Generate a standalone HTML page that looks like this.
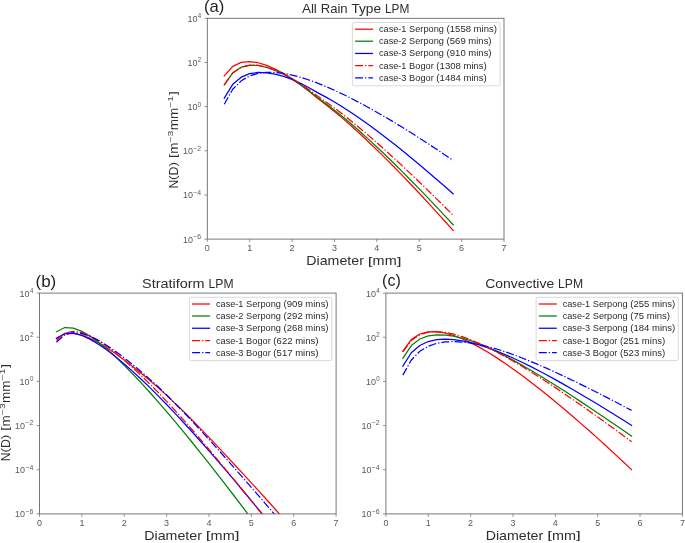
<!DOCTYPE html>
<html><head><meta charset="utf-8"><title>DSD</title>
<style>html,body{margin:0;padding:0;background:#fff}body{width:685px;height:543px;overflow:hidden;font-family:"Liberation Sans",sans-serif}svg text{-webkit-font-smoothing:antialiased;}svg{will-change:transform;opacity:0.999}</style></head>
<body>
<svg width="685" height="543" viewBox="0 0 685 543" style="display:block">
<rect width="685" height="543" fill="#fff"/>
<defs>
<clipPath id="clipa"><rect x="207.3" y="18.3" width="296.70" height="220.80"/></clipPath>
<clipPath id="clipb"><rect x="39.5" y="293.1" width="296.60" height="220.80"/></clipPath>
<clipPath id="clipc"><rect x="385.9" y="293.1" width="296.50" height="220.80"/></clipPath>
</defs>
<g clip-path="url(#clipa)" fill="none" stroke-width="1.25" stroke-linejoin="round">
<polyline points="224.25,75.96 232.73,66.31 241.21,62.35 249.69,61.54 258.16,62.74 266.64,65.35 275.12,68.99 283.59,73.44 292.07,78.77 300.55,84.84 309.03,91.37 317.50,98.29 325.98,104.78 334.46,111.58 342.93,118.64 351.41,126.05 359.89,133.79 368.37,141.73 376.84,149.85 385.32,158.15 393.80,166.71 402.27,175.42 410.75,184.28 419.23,193.27 427.71,202.39 436.18,211.63 444.66,221.00 453.14,230.48" stroke="#ff0000" stroke-linecap="square"/>
<polyline points="224.25,84.90 232.73,72.81 241.21,67.22 249.69,65.22 258.16,65.49 266.64,67.34 275.12,70.36 283.59,74.28 292.07,79.13 300.55,84.79 309.03,90.94 317.50,97.51 325.98,103.68 334.46,110.16 342.93,116.92 351.41,124.04 359.89,131.49 368.37,139.14 376.84,146.98 385.32,154.99 393.80,163.25 402.27,171.67 410.75,180.22 419.23,188.89 427.71,197.69 436.18,206.61 444.66,215.63 453.14,224.75" stroke="#008000" stroke-linecap="square"/>
<polyline points="224.25,98.06 232.73,84.31 241.21,77.16 249.69,73.63 258.16,72.48 266.64,72.93 275.12,74.16 283.59,76.30 292.07,79.40 300.55,83.33 309.03,87.75 317.50,92.59 325.98,97.16 334.46,102.03 342.93,107.19 351.41,112.70 359.89,118.53 368.37,124.57 376.84,130.78 385.32,137.17 393.80,143.80 402.27,150.58 410.75,157.49 419.23,164.53 427.71,171.68 436.18,178.94 444.66,186.30 453.14,193.76" stroke="#0000ff" stroke-linecap="square"/>
<polyline points="224.25,84.92 232.73,72.91 241.21,67.34 249.69,65.29 258.16,65.48 266.64,67.22 275.12,70.08 283.59,73.82 292.07,78.46 300.55,83.88 309.03,89.77 317.50,96.04 325.98,101.89 334.46,108.03 342.93,114.42 351.41,121.14 359.89,128.17 368.37,135.38 376.84,142.75 385.32,150.26 393.80,158.01 402.27,165.88 410.75,173.86 419.23,181.95 427.71,190.13 436.18,198.40 444.66,206.76 453.14,215.20" stroke="#ff0000" stroke-dasharray="8 2 1.25 2" stroke-linecap="butt"/>
<polyline points="224.25,104.21 232.73,89.27 241.21,80.83 249.69,75.96 258.16,73.35 266.64,72.31 275.12,72.41 283.59,73.39 292.07,75.06 300.55,77.30 309.03,80.00 317.50,83.10 325.98,86.54 334.46,90.27 342.93,94.25 351.41,98.46 359.89,102.87 368.37,107.46 376.84,112.21 385.32,117.12 393.80,122.15 402.27,127.32 410.75,132.59 419.23,137.97 427.71,143.45 436.18,149.02 444.66,154.68 453.14,160.42" stroke="#0000ff" stroke-dasharray="8 2 1.25 2" stroke-linecap="butt"/>
</g>
<rect x="207.3" y="18.3" width="296.70" height="220.80" fill="none" stroke="#6a6a6a" stroke-width="0.9"/>
<g stroke="#777" stroke-width="0.8">
<line x1="207.30" x2="207.30" y1="239.1" y2="242.0"/>
<line x1="249.69" x2="249.69" y1="239.1" y2="242.0"/>
<line x1="292.07" x2="292.07" y1="239.1" y2="242.0"/>
<line x1="334.46" x2="334.46" y1="239.1" y2="242.0"/>
<line x1="376.84" x2="376.84" y1="239.1" y2="242.0"/>
<line x1="419.23" x2="419.23" y1="239.1" y2="242.0"/>
<line x1="461.61" x2="461.61" y1="239.1" y2="242.0"/>
<line x1="504.00" x2="504.00" y1="239.1" y2="242.0"/>
<line x1="204.4" x2="207.3" y1="18.30" y2="18.30"/>
<line x1="204.4" x2="207.3" y1="62.46" y2="62.46"/>
<line x1="204.4" x2="207.3" y1="106.62" y2="106.62"/>
<line x1="204.4" x2="207.3" y1="150.78" y2="150.78"/>
<line x1="204.4" x2="207.3" y1="194.94" y2="194.94"/>
<line x1="204.4" x2="207.3" y1="239.10" y2="239.10"/>
</g>
<g font-family="Liberation Sans, sans-serif" fill="#585858" font-size="9.0">
<text x="207.30" y="251.20" text-anchor="middle" textLength="4.99" lengthAdjust="spacingAndGlyphs">0</text>
<text x="249.69" y="251.20" text-anchor="middle" textLength="4.99" lengthAdjust="spacingAndGlyphs">1</text>
<text x="292.07" y="251.20" text-anchor="middle" textLength="4.99" lengthAdjust="spacingAndGlyphs">2</text>
<text x="334.46" y="251.20" text-anchor="middle" textLength="4.99" lengthAdjust="spacingAndGlyphs">3</text>
<text x="376.84" y="251.20" text-anchor="middle" textLength="4.99" lengthAdjust="spacingAndGlyphs">4</text>
<text x="419.23" y="251.20" text-anchor="middle" textLength="4.99" lengthAdjust="spacingAndGlyphs">5</text>
<text x="461.61" y="251.20" text-anchor="middle" textLength="4.99" lengthAdjust="spacingAndGlyphs">6</text>
<text x="504.00" y="251.20" text-anchor="middle" textLength="4.99" lengthAdjust="spacingAndGlyphs">7</text>
<text x="197.39" y="21.70" text-anchor="end" textLength="9.98" lengthAdjust="spacingAndGlyphs">10</text>
<text x="201.10" y="18.20" text-anchor="end" font-size="6.8" textLength="3.41" lengthAdjust="spacingAndGlyphs">4</text>
<text x="197.39" y="65.86" text-anchor="end" textLength="9.98" lengthAdjust="spacingAndGlyphs">10</text>
<text x="201.10" y="62.36" text-anchor="end" font-size="6.8" textLength="3.41" lengthAdjust="spacingAndGlyphs">2</text>
<text x="197.39" y="110.02" text-anchor="end" textLength="9.98" lengthAdjust="spacingAndGlyphs">10</text>
<text x="201.10" y="106.52" text-anchor="end" font-size="6.8" textLength="3.41" lengthAdjust="spacingAndGlyphs">0</text>
<text x="192.90" y="154.18" text-anchor="end" textLength="9.98" lengthAdjust="spacingAndGlyphs">10</text>
<text x="201.10" y="150.68" text-anchor="end" font-size="6.8" textLength="7.90" lengthAdjust="spacingAndGlyphs">−2</text>
<text x="192.90" y="198.34" text-anchor="end" textLength="9.98" lengthAdjust="spacingAndGlyphs">10</text>
<text x="201.10" y="194.84" text-anchor="end" font-size="6.8" textLength="7.90" lengthAdjust="spacingAndGlyphs">−4</text>
<text x="192.90" y="242.50" text-anchor="end" textLength="9.98" lengthAdjust="spacingAndGlyphs">10</text>
<text x="201.10" y="239.00" text-anchor="end" font-size="6.8" textLength="7.90" lengthAdjust="spacingAndGlyphs">−6</text>
</g>
<g font-family="Liberation Sans, sans-serif" font-size="12.4" fill="#2e2e2e"><text x="301.90" y="12.80" textLength="14.99" lengthAdjust="spacingAndGlyphs">All</text><text x="320.74" y="12.80" textLength="26.84" lengthAdjust="spacingAndGlyphs">Rain</text><text x="351.42" y="12.80" textLength="29.66" lengthAdjust="spacingAndGlyphs">Type</text><text x="384.93" y="12.80" textLength="24.47" lengthAdjust="spacingAndGlyphs">LPM</text></g>
<text font-family="Liberation Sans, sans-serif" x="203.90" y="12.00" font-size="16.4" fill="#1e1e1e" textLength="20.4" lengthAdjust="spacingAndGlyphs">(a)</text>
<g font-family="Liberation Sans, sans-serif" font-size="12.7" fill="#2e2e2e"><text x="306.30" y="265.30" textLength="57.61" lengthAdjust="spacingAndGlyphs">Diameter</text><text x="367.83" y="264.54" font-size="11.75" textLength="4.81" lengthAdjust="spacingAndGlyphs">[</text><text x="372.64" y="265.30" textLength="24.04" lengthAdjust="spacingAndGlyphs">mm</text><text x="396.69" y="264.54" font-size="11.75" textLength="4.81" lengthAdjust="spacingAndGlyphs">]</text></g>
<g transform="translate(178.00,188.50) rotate(-90)" font-family="Liberation Sans, sans-serif" fill="#2e2e2e" font-size="11.9">
<text x="0.00" y="0" textLength="8.62" lengthAdjust="spacingAndGlyphs">N</text>
<text x="8.62" y="-0.71" font-size="11.01" textLength="4.50" lengthAdjust="spacingAndGlyphs">(</text>
<text x="13.12" y="0" textLength="8.88" lengthAdjust="spacingAndGlyphs">D</text>
<text x="22.00" y="-0.71" font-size="11.01" textLength="4.50" lengthAdjust="spacingAndGlyphs">)</text>
<text x="30.16" y="-0.71" font-size="11.01" textLength="4.50" lengthAdjust="spacingAndGlyphs">[</text>
<text x="34.66" y="0" textLength="11.23" lengthAdjust="spacingAndGlyphs">m</text>
<text x="46.00" y="-4.9" font-size="7.91" fill="#444" textLength="11.90" lengthAdjust="spacingAndGlyphs">−3</text>
<text x="58.21" y="0" textLength="22.46" lengthAdjust="spacingAndGlyphs">mm</text>
<text x="80.79" y="-4.9" font-size="7.91" fill="#444" textLength="11.90" lengthAdjust="spacingAndGlyphs">−1</text>
<text x="93.00" y="-0.71" font-size="11.01" textLength="4.50" lengthAdjust="spacingAndGlyphs">]</text>
</g>
<rect x="352.4" y="22.50" width="147.70" height="63.30" rx="1.8" fill="#fff" fill-opacity="0.8" stroke="#d2d2d2" stroke-width="0.85"/>
<line x1="355.10" x2="373.10" y1="29.20" y2="29.20" stroke="#ff0000" stroke-width="1.25"/>
<g font-family="Liberation Sans, sans-serif" font-size="8.7" fill="#2a2a2a"><text x="379.00" y="32.20" textLength="27.45" lengthAdjust="spacingAndGlyphs">case-1</text><text x="409.10" y="32.20" textLength="34.79" lengthAdjust="spacingAndGlyphs">Serpong</text><text x="446.54" y="32.20" textLength="3.25" lengthAdjust="spacingAndGlyphs">(</text><text x="449.79" y="32.20" textLength="21.20" lengthAdjust="spacingAndGlyphs">1558</text><text x="473.64" y="32.20" textLength="20.05" lengthAdjust="spacingAndGlyphs">mins</text><text x="493.68" y="32.20" textLength="3.25" lengthAdjust="spacingAndGlyphs">)</text></g>
<line x1="355.10" x2="373.10" y1="41.20" y2="41.20" stroke="#008000" stroke-width="1.25"/>
<g font-family="Liberation Sans, sans-serif" font-size="8.7" fill="#2a2a2a"><text x="379.00" y="44.20" textLength="27.45" lengthAdjust="spacingAndGlyphs">case-2</text><text x="409.10" y="44.20" textLength="34.79" lengthAdjust="spacingAndGlyphs">Serpong</text><text x="446.54" y="44.20" textLength="3.25" lengthAdjust="spacingAndGlyphs">(</text><text x="449.79" y="44.20" textLength="15.90" lengthAdjust="spacingAndGlyphs">569</text><text x="468.34" y="44.20" textLength="20.05" lengthAdjust="spacingAndGlyphs">mins</text><text x="488.38" y="44.20" textLength="3.25" lengthAdjust="spacingAndGlyphs">)</text></g>
<line x1="355.10" x2="373.10" y1="53.45" y2="53.45" stroke="#0000ff" stroke-width="1.25"/>
<g font-family="Liberation Sans, sans-serif" font-size="8.7" fill="#2a2a2a"><text x="379.00" y="56.45" textLength="27.45" lengthAdjust="spacingAndGlyphs">case-3</text><text x="409.10" y="56.45" textLength="34.79" lengthAdjust="spacingAndGlyphs">Serpong</text><text x="446.54" y="56.45" textLength="3.25" lengthAdjust="spacingAndGlyphs">(</text><text x="449.79" y="56.45" textLength="15.90" lengthAdjust="spacingAndGlyphs">910</text><text x="468.34" y="56.45" textLength="20.05" lengthAdjust="spacingAndGlyphs">mins</text><text x="488.38" y="56.45" textLength="3.25" lengthAdjust="spacingAndGlyphs">)</text></g>
<line x1="355.10" x2="373.10" y1="65.70" y2="65.70" stroke="#ff0000" stroke-width="1.25" stroke-dasharray="8 2 1.25 2"/>
<g font-family="Liberation Sans, sans-serif" font-size="8.7" fill="#2a2a2a"><text x="379.00" y="68.70" textLength="27.45" lengthAdjust="spacingAndGlyphs">case-1</text><text x="409.10" y="68.70" textLength="24.62" lengthAdjust="spacingAndGlyphs">Bogor</text><text x="436.37" y="68.70" textLength="3.25" lengthAdjust="spacingAndGlyphs">(</text><text x="439.62" y="68.70" textLength="21.20" lengthAdjust="spacingAndGlyphs">1308</text><text x="463.47" y="68.70" textLength="20.05" lengthAdjust="spacingAndGlyphs">mins</text><text x="483.52" y="68.70" textLength="3.25" lengthAdjust="spacingAndGlyphs">)</text></g>
<line x1="355.10" x2="373.10" y1="77.80" y2="77.80" stroke="#0000ff" stroke-width="1.25" stroke-dasharray="8 2 1.25 2"/>
<g font-family="Liberation Sans, sans-serif" font-size="8.7" fill="#2a2a2a"><text x="379.00" y="80.80" textLength="27.45" lengthAdjust="spacingAndGlyphs">case-3</text><text x="409.10" y="80.80" textLength="24.62" lengthAdjust="spacingAndGlyphs">Bogor</text><text x="436.37" y="80.80" textLength="3.25" lengthAdjust="spacingAndGlyphs">(</text><text x="439.62" y="80.80" textLength="21.20" lengthAdjust="spacingAndGlyphs">1484</text><text x="463.47" y="80.80" textLength="20.05" lengthAdjust="spacingAndGlyphs">mins</text><text x="483.52" y="80.80" textLength="3.25" lengthAdjust="spacingAndGlyphs">)</text></g>
<g clip-path="url(#clipb)" fill="none" stroke-width="1.25" stroke-linejoin="round">
<polyline points="56.45,338.62 64.92,333.80 73.40,333.27 81.87,335.10 90.35,338.44 98.82,342.83 107.29,348.01 115.77,353.79 124.24,360.06 132.72,366.49 141.19,373.25 149.67,380.30 158.14,387.61 166.61,395.39 175.09,403.37 183.56,411.53 192.04,419.95 200.51,428.60 208.99,437.40 217.46,446.33 225.93,455.37 234.41,464.54 242.88,473.62 251.36,482.82 259.83,492.11 268.31,501.49 276.78,510.96 285.25,520.52" stroke="#ff0000" stroke-linecap="square"/>
<polyline points="56.45,331.73 64.92,327.52 73.40,328.13 81.87,331.39 90.35,336.34 98.82,342.47 107.29,349.46 115.77,357.12 124.24,365.31 132.72,373.95 141.19,382.94 149.67,392.25 158.14,401.83 166.61,411.64 175.09,421.67 183.56,431.88 192.04,442.26 200.51,452.80 208.99,463.47 217.46,474.28 225.93,485.21 234.41,496.25 242.88,507.39 251.36,518.63 259.83,529.97 268.31,541.40 276.78,552.91 285.25,564.49" stroke="#008000" stroke-linecap="square"/>
<polyline points="56.45,338.27 64.92,333.44 73.40,333.20 81.87,335.50 90.35,339.41 98.82,344.45 107.29,350.33 115.77,356.86 124.24,363.91 132.72,371.40 141.19,379.25 149.67,387.41 158.14,395.85 166.61,404.53 175.09,413.43 183.56,422.52 192.04,431.79 200.51,441.22 208.99,450.81 217.46,460.54 225.93,470.40 234.41,480.38 242.88,490.48 251.36,500.70 259.83,511.02 268.31,521.44 276.78,531.96 285.25,542.57" stroke="#0000ff" stroke-linecap="square"/>
<polyline points="56.45,340.52 64.92,333.01 73.40,331.25 81.87,332.64 90.35,336.03 98.82,340.79 107.29,346.57 115.77,353.12 124.24,360.29 132.72,367.75 141.19,375.63 149.67,383.85 158.14,392.37 166.61,401.34 175.09,410.53 183.56,419.92 192.04,429.49 200.51,439.37 208.99,449.38 217.46,459.53 225.93,469.80 234.41,480.17 242.88,490.48 251.36,500.89 259.83,511.38 268.31,521.95 276.78,532.59 285.25,543.31" stroke="#ff0000" stroke-dasharray="8 2 1.25 2" stroke-linecap="butt"/>
<polyline points="56.45,342.20 64.92,334.72 73.40,332.67 81.87,333.60 90.35,336.43 98.82,340.57 107.29,345.67 115.77,351.52 124.24,357.96 132.72,364.63 141.19,371.70 149.67,379.11 158.14,386.82 166.61,395.02 175.09,403.45 183.56,412.08 192.04,420.98 200.51,430.13 208.99,439.43 217.46,448.87 225.93,458.42 234.41,468.09 242.88,477.69 251.36,487.39 259.83,497.18 268.31,507.06 276.78,517.02 285.25,527.06" stroke="#0000ff" stroke-dasharray="8 2 1.25 2" stroke-linecap="butt"/>
</g>
<rect x="39.5" y="293.1" width="296.60" height="220.80" fill="none" stroke="#6a6a6a" stroke-width="0.9"/>
<g stroke="#777" stroke-width="0.8">
<line x1="39.50" x2="39.50" y1="513.9" y2="516.8"/>
<line x1="81.87" x2="81.87" y1="513.9" y2="516.8"/>
<line x1="124.24" x2="124.24" y1="513.9" y2="516.8"/>
<line x1="166.61" x2="166.61" y1="513.9" y2="516.8"/>
<line x1="208.99" x2="208.99" y1="513.9" y2="516.8"/>
<line x1="251.36" x2="251.36" y1="513.9" y2="516.8"/>
<line x1="293.73" x2="293.73" y1="513.9" y2="516.8"/>
<line x1="336.10" x2="336.10" y1="513.9" y2="516.8"/>
<line x1="36.6" x2="39.5" y1="293.10" y2="293.10"/>
<line x1="36.6" x2="39.5" y1="337.26" y2="337.26"/>
<line x1="36.6" x2="39.5" y1="381.42" y2="381.42"/>
<line x1="36.6" x2="39.5" y1="425.58" y2="425.58"/>
<line x1="36.6" x2="39.5" y1="469.74" y2="469.74"/>
<line x1="36.6" x2="39.5" y1="513.90" y2="513.90"/>
</g>
<g font-family="Liberation Sans, sans-serif" fill="#585858" font-size="9.0">
<text x="39.50" y="526.00" text-anchor="middle" textLength="4.99" lengthAdjust="spacingAndGlyphs">0</text>
<text x="81.87" y="526.00" text-anchor="middle" textLength="4.99" lengthAdjust="spacingAndGlyphs">1</text>
<text x="124.24" y="526.00" text-anchor="middle" textLength="4.99" lengthAdjust="spacingAndGlyphs">2</text>
<text x="166.61" y="526.00" text-anchor="middle" textLength="4.99" lengthAdjust="spacingAndGlyphs">3</text>
<text x="208.99" y="526.00" text-anchor="middle" textLength="4.99" lengthAdjust="spacingAndGlyphs">4</text>
<text x="251.36" y="526.00" text-anchor="middle" textLength="4.99" lengthAdjust="spacingAndGlyphs">5</text>
<text x="293.73" y="526.00" text-anchor="middle" textLength="4.99" lengthAdjust="spacingAndGlyphs">6</text>
<text x="336.10" y="526.00" text-anchor="middle" textLength="4.99" lengthAdjust="spacingAndGlyphs">7</text>
<text x="29.59" y="296.50" text-anchor="end" textLength="9.98" lengthAdjust="spacingAndGlyphs">10</text>
<text x="33.30" y="293.00" text-anchor="end" font-size="6.8" textLength="3.41" lengthAdjust="spacingAndGlyphs">4</text>
<text x="29.59" y="340.66" text-anchor="end" textLength="9.98" lengthAdjust="spacingAndGlyphs">10</text>
<text x="33.30" y="337.16" text-anchor="end" font-size="6.8" textLength="3.41" lengthAdjust="spacingAndGlyphs">2</text>
<text x="29.59" y="384.82" text-anchor="end" textLength="9.98" lengthAdjust="spacingAndGlyphs">10</text>
<text x="33.30" y="381.32" text-anchor="end" font-size="6.8" textLength="3.41" lengthAdjust="spacingAndGlyphs">0</text>
<text x="25.10" y="428.98" text-anchor="end" textLength="9.98" lengthAdjust="spacingAndGlyphs">10</text>
<text x="33.30" y="425.48" text-anchor="end" font-size="6.8" textLength="7.90" lengthAdjust="spacingAndGlyphs">−2</text>
<text x="25.10" y="473.14" text-anchor="end" textLength="9.98" lengthAdjust="spacingAndGlyphs">10</text>
<text x="33.30" y="469.64" text-anchor="end" font-size="6.8" textLength="7.90" lengthAdjust="spacingAndGlyphs">−4</text>
<text x="25.10" y="517.30" text-anchor="end" textLength="9.98" lengthAdjust="spacingAndGlyphs">10</text>
<text x="33.30" y="513.80" text-anchor="end" font-size="6.8" textLength="7.90" lengthAdjust="spacingAndGlyphs">−6</text>
</g>
<g font-family="Liberation Sans, sans-serif" font-size="12.4" fill="#2e2e2e"><text x="142.05" y="287.60" textLength="62.60" lengthAdjust="spacingAndGlyphs">Stratiform</text><text x="208.57" y="287.60" textLength="24.98" lengthAdjust="spacingAndGlyphs">LPM</text></g>
<text font-family="Liberation Sans, sans-serif" x="35.50" y="286.80" font-size="16.4" fill="#1e1e1e" textLength="20.8" lengthAdjust="spacingAndGlyphs">(b)</text>
<g font-family="Liberation Sans, sans-serif" font-size="12.7" fill="#2e2e2e"><text x="144.30" y="540.10" textLength="57.61" lengthAdjust="spacingAndGlyphs">Diameter</text><text x="205.83" y="539.34" font-size="11.75" textLength="4.81" lengthAdjust="spacingAndGlyphs">[</text><text x="210.64" y="540.10" textLength="24.04" lengthAdjust="spacingAndGlyphs">mm</text><text x="234.69" y="539.34" font-size="11.75" textLength="4.81" lengthAdjust="spacingAndGlyphs">]</text></g>
<g transform="translate(10.20,461.20) rotate(-90)" font-family="Liberation Sans, sans-serif" fill="#2e2e2e" font-size="11.9">
<text x="0.00" y="0" textLength="8.62" lengthAdjust="spacingAndGlyphs">N</text>
<text x="8.62" y="-0.71" font-size="11.01" textLength="4.50" lengthAdjust="spacingAndGlyphs">(</text>
<text x="13.12" y="0" textLength="8.88" lengthAdjust="spacingAndGlyphs">D</text>
<text x="22.00" y="-0.71" font-size="11.01" textLength="4.50" lengthAdjust="spacingAndGlyphs">)</text>
<text x="30.16" y="-0.71" font-size="11.01" textLength="4.50" lengthAdjust="spacingAndGlyphs">[</text>
<text x="34.66" y="0" textLength="11.23" lengthAdjust="spacingAndGlyphs">m</text>
<text x="46.00" y="-4.9" font-size="7.91" fill="#444" textLength="11.90" lengthAdjust="spacingAndGlyphs">−3</text>
<text x="58.21" y="0" textLength="22.46" lengthAdjust="spacingAndGlyphs">mm</text>
<text x="80.79" y="-4.9" font-size="7.91" fill="#444" textLength="11.90" lengthAdjust="spacingAndGlyphs">−1</text>
<text x="93.00" y="-0.71" font-size="11.01" textLength="4.50" lengthAdjust="spacingAndGlyphs">]</text>
</g>
<rect x="189.4" y="297.30" width="142.50" height="63.30" rx="1.8" fill="#fff" fill-opacity="0.8" stroke="#d2d2d2" stroke-width="0.85"/>
<line x1="192.10" x2="210.10" y1="304.00" y2="304.00" stroke="#ff0000" stroke-width="1.25"/>
<g font-family="Liberation Sans, sans-serif" font-size="8.7" fill="#2a2a2a"><text x="216.00" y="307.00" textLength="27.45" lengthAdjust="spacingAndGlyphs">case-1</text><text x="246.10" y="307.00" textLength="34.79" lengthAdjust="spacingAndGlyphs">Serpong</text><text x="283.54" y="307.00" textLength="3.25" lengthAdjust="spacingAndGlyphs">(</text><text x="286.79" y="307.00" textLength="15.90" lengthAdjust="spacingAndGlyphs">909</text><text x="305.34" y="307.00" textLength="20.05" lengthAdjust="spacingAndGlyphs">mins</text><text x="325.38" y="307.00" textLength="3.25" lengthAdjust="spacingAndGlyphs">)</text></g>
<line x1="192.10" x2="210.10" y1="316.00" y2="316.00" stroke="#008000" stroke-width="1.25"/>
<g font-family="Liberation Sans, sans-serif" font-size="8.7" fill="#2a2a2a"><text x="216.00" y="319.00" textLength="27.45" lengthAdjust="spacingAndGlyphs">case-2</text><text x="246.10" y="319.00" textLength="34.79" lengthAdjust="spacingAndGlyphs">Serpong</text><text x="283.54" y="319.00" textLength="3.25" lengthAdjust="spacingAndGlyphs">(</text><text x="286.79" y="319.00" textLength="15.90" lengthAdjust="spacingAndGlyphs">292</text><text x="305.34" y="319.00" textLength="20.05" lengthAdjust="spacingAndGlyphs">mins</text><text x="325.38" y="319.00" textLength="3.25" lengthAdjust="spacingAndGlyphs">)</text></g>
<line x1="192.10" x2="210.10" y1="328.25" y2="328.25" stroke="#0000ff" stroke-width="1.25"/>
<g font-family="Liberation Sans, sans-serif" font-size="8.7" fill="#2a2a2a"><text x="216.00" y="331.25" textLength="27.45" lengthAdjust="spacingAndGlyphs">case-3</text><text x="246.10" y="331.25" textLength="34.79" lengthAdjust="spacingAndGlyphs">Serpong</text><text x="283.54" y="331.25" textLength="3.25" lengthAdjust="spacingAndGlyphs">(</text><text x="286.79" y="331.25" textLength="15.90" lengthAdjust="spacingAndGlyphs">268</text><text x="305.34" y="331.25" textLength="20.05" lengthAdjust="spacingAndGlyphs">mins</text><text x="325.38" y="331.25" textLength="3.25" lengthAdjust="spacingAndGlyphs">)</text></g>
<line x1="192.10" x2="210.10" y1="340.50" y2="340.50" stroke="#ff0000" stroke-width="1.25" stroke-dasharray="8 2 1.25 2"/>
<g font-family="Liberation Sans, sans-serif" font-size="8.7" fill="#2a2a2a"><text x="216.00" y="343.50" textLength="27.45" lengthAdjust="spacingAndGlyphs">case-1</text><text x="246.10" y="343.50" textLength="24.62" lengthAdjust="spacingAndGlyphs">Bogor</text><text x="273.37" y="343.50" textLength="3.25" lengthAdjust="spacingAndGlyphs">(</text><text x="276.62" y="343.50" textLength="15.90" lengthAdjust="spacingAndGlyphs">622</text><text x="295.17" y="343.50" textLength="20.05" lengthAdjust="spacingAndGlyphs">mins</text><text x="315.22" y="343.50" textLength="3.25" lengthAdjust="spacingAndGlyphs">)</text></g>
<line x1="192.10" x2="210.10" y1="352.60" y2="352.60" stroke="#0000ff" stroke-width="1.25" stroke-dasharray="8 2 1.25 2"/>
<g font-family="Liberation Sans, sans-serif" font-size="8.7" fill="#2a2a2a"><text x="216.00" y="355.60" textLength="27.45" lengthAdjust="spacingAndGlyphs">case-3</text><text x="246.10" y="355.60" textLength="24.62" lengthAdjust="spacingAndGlyphs">Bogor</text><text x="273.37" y="355.60" textLength="3.25" lengthAdjust="spacingAndGlyphs">(</text><text x="276.62" y="355.60" textLength="15.90" lengthAdjust="spacingAndGlyphs">517</text><text x="295.17" y="355.60" textLength="20.05" lengthAdjust="spacingAndGlyphs">mins</text><text x="315.22" y="355.60" textLength="3.25" lengthAdjust="spacingAndGlyphs">)</text></g>
<g clip-path="url(#clipc)" fill="none" stroke-width="1.25" stroke-linejoin="round">
<polyline points="402.84,351.18 411.31,339.56 419.79,334.01 428.26,331.79 436.73,331.68 445.20,333.04 453.67,335.48 462.14,338.75 470.61,342.68 479.09,347.15 487.56,352.06 496.03,357.36 504.50,362.98 512.97,368.89 521.44,375.04 529.91,381.43 538.39,388.01 546.86,394.77 555.33,401.70 563.80,408.78 572.27,416.00 580.74,423.35 589.21,430.81 597.69,438.39 606.16,446.08 614.63,453.86 623.10,461.73 631.57,469.70" stroke="#ff0000" stroke-linecap="square"/>
<polyline points="402.84,358.27 411.31,345.57 419.79,339.03 428.26,335.85 436.73,334.79 445.20,335.03 453.67,336.19 462.14,338.14 470.61,340.71 479.09,343.79 487.56,347.42 496.03,351.39 504.50,355.65 512.97,360.14 521.44,364.84 529.91,369.72 538.39,374.75 546.86,379.92 555.33,385.20 563.80,390.59 572.27,396.07 580.74,401.63 589.21,407.26 597.69,412.95 606.16,418.70 614.63,424.50 623.10,430.34 631.57,436.23" stroke="#008000" stroke-linecap="square"/>
<polyline points="402.84,366.02 411.31,352.72 419.79,345.47 428.26,341.52 436.73,339.66 445.20,339.24 453.67,339.60 462.14,340.77 470.61,342.56 479.09,344.87 487.56,347.59 496.03,350.79 504.50,354.29 512.97,358.04 521.44,362.02 529.91,366.18 538.39,370.52 546.86,375.01 555.33,379.63 563.80,384.37 572.27,389.22 580.74,394.17 589.21,399.20 597.69,404.32 606.16,409.51 614.63,414.77 623.10,420.09 631.57,425.47" stroke="#0000ff" stroke-linecap="square"/>
<polyline points="402.84,351.86 411.31,340.45 419.79,334.77 428.26,332.21 436.73,331.63 445.20,332.41 453.67,334.18 462.14,336.70 470.61,339.81 479.09,343.39 487.56,347.36 496.03,351.66 504.50,356.23 512.97,361.03 521.44,366.04 529.91,371.22 538.39,376.56 546.86,382.03 555.33,387.62 563.80,393.32 572.27,399.11 580.74,404.99 589.21,410.95 597.69,416.97 606.16,423.06 614.63,429.20 623.10,435.40 631.57,441.64" stroke="#ff0000" stroke-dasharray="8 2 1.25 2" stroke-linecap="butt"/>
<polyline points="402.84,375.12 411.31,359.99 419.79,351.32 428.26,346.19 436.73,343.28 445.20,341.90 453.67,341.63 462.14,342.07 470.61,343.05 479.09,344.55 487.56,346.49 496.03,348.78 504.50,351.52 512.97,354.51 521.44,357.72 529.91,361.12 538.39,364.68 546.86,368.38 555.33,372.21 563.80,376.15 572.27,380.19 580.74,384.32 589.21,388.52 597.69,392.79 606.16,397.12 614.63,401.51 623.10,405.94 631.57,410.41" stroke="#0000ff" stroke-dasharray="8 2 1.25 2" stroke-linecap="butt"/>
</g>
<rect x="385.9" y="293.1" width="296.50" height="220.80" fill="none" stroke="#6a6a6a" stroke-width="0.9"/>
<g stroke="#777" stroke-width="0.8">
<line x1="385.90" x2="385.90" y1="513.9" y2="516.8"/>
<line x1="428.26" x2="428.26" y1="513.9" y2="516.8"/>
<line x1="470.61" x2="470.61" y1="513.9" y2="516.8"/>
<line x1="512.97" x2="512.97" y1="513.9" y2="516.8"/>
<line x1="555.33" x2="555.33" y1="513.9" y2="516.8"/>
<line x1="597.69" x2="597.69" y1="513.9" y2="516.8"/>
<line x1="640.04" x2="640.04" y1="513.9" y2="516.8"/>
<line x1="682.40" x2="682.40" y1="513.9" y2="516.8"/>
<line x1="383.0" x2="385.9" y1="293.10" y2="293.10"/>
<line x1="383.0" x2="385.9" y1="337.26" y2="337.26"/>
<line x1="383.0" x2="385.9" y1="381.42" y2="381.42"/>
<line x1="383.0" x2="385.9" y1="425.58" y2="425.58"/>
<line x1="383.0" x2="385.9" y1="469.74" y2="469.74"/>
<line x1="383.0" x2="385.9" y1="513.90" y2="513.90"/>
</g>
<g font-family="Liberation Sans, sans-serif" fill="#585858" font-size="9.0">
<text x="385.90" y="526.00" text-anchor="middle" textLength="4.99" lengthAdjust="spacingAndGlyphs">0</text>
<text x="428.26" y="526.00" text-anchor="middle" textLength="4.99" lengthAdjust="spacingAndGlyphs">1</text>
<text x="470.61" y="526.00" text-anchor="middle" textLength="4.99" lengthAdjust="spacingAndGlyphs">2</text>
<text x="512.97" y="526.00" text-anchor="middle" textLength="4.99" lengthAdjust="spacingAndGlyphs">3</text>
<text x="555.33" y="526.00" text-anchor="middle" textLength="4.99" lengthAdjust="spacingAndGlyphs">4</text>
<text x="597.69" y="526.00" text-anchor="middle" textLength="4.99" lengthAdjust="spacingAndGlyphs">5</text>
<text x="640.04" y="526.00" text-anchor="middle" textLength="4.99" lengthAdjust="spacingAndGlyphs">6</text>
<text x="682.40" y="526.00" text-anchor="middle" textLength="4.99" lengthAdjust="spacingAndGlyphs">7</text>
<text x="375.99" y="296.50" text-anchor="end" textLength="9.98" lengthAdjust="spacingAndGlyphs">10</text>
<text x="379.70" y="293.00" text-anchor="end" font-size="6.8" textLength="3.41" lengthAdjust="spacingAndGlyphs">4</text>
<text x="375.99" y="340.66" text-anchor="end" textLength="9.98" lengthAdjust="spacingAndGlyphs">10</text>
<text x="379.70" y="337.16" text-anchor="end" font-size="6.8" textLength="3.41" lengthAdjust="spacingAndGlyphs">2</text>
<text x="375.99" y="384.82" text-anchor="end" textLength="9.98" lengthAdjust="spacingAndGlyphs">10</text>
<text x="379.70" y="381.32" text-anchor="end" font-size="6.8" textLength="3.41" lengthAdjust="spacingAndGlyphs">0</text>
<text x="371.50" y="428.98" text-anchor="end" textLength="9.98" lengthAdjust="spacingAndGlyphs">10</text>
<text x="379.70" y="425.48" text-anchor="end" font-size="6.8" textLength="7.90" lengthAdjust="spacingAndGlyphs">−2</text>
<text x="371.50" y="473.14" text-anchor="end" textLength="9.98" lengthAdjust="spacingAndGlyphs">10</text>
<text x="379.70" y="469.64" text-anchor="end" font-size="6.8" textLength="7.90" lengthAdjust="spacingAndGlyphs">−4</text>
<text x="371.50" y="517.30" text-anchor="end" textLength="9.98" lengthAdjust="spacingAndGlyphs">10</text>
<text x="379.70" y="513.80" text-anchor="end" font-size="6.8" textLength="7.90" lengthAdjust="spacingAndGlyphs">−6</text>
</g>
<g font-family="Liberation Sans, sans-serif" font-size="12.4" fill="#2e2e2e"><text x="485.30" y="287.60" textLength="68.82" lengthAdjust="spacingAndGlyphs">Convective</text><text x="558.04" y="287.60" textLength="24.96" lengthAdjust="spacingAndGlyphs">LPM</text></g>
<text font-family="Liberation Sans, sans-serif" x="382.10" y="286.00" font-size="16.4" fill="#1e1e1e" textLength="18.8" lengthAdjust="spacingAndGlyphs">(c)</text>
<g font-family="Liberation Sans, sans-serif" font-size="12.7" fill="#2e2e2e"><text x="485.65" y="540.10" textLength="57.61" lengthAdjust="spacingAndGlyphs">Diameter</text><text x="547.18" y="539.34" font-size="11.75" textLength="4.81" lengthAdjust="spacingAndGlyphs">[</text><text x="551.99" y="540.10" textLength="24.04" lengthAdjust="spacingAndGlyphs">mm</text><text x="576.04" y="539.34" font-size="11.75" textLength="4.81" lengthAdjust="spacingAndGlyphs">]</text></g>
<rect x="536.1" y="297.30" width="142.20" height="63.30" rx="1.8" fill="#fff" fill-opacity="0.8" stroke="#d2d2d2" stroke-width="0.85"/>
<line x1="538.80" x2="556.80" y1="304.00" y2="304.00" stroke="#ff0000" stroke-width="1.25"/>
<g font-family="Liberation Sans, sans-serif" font-size="8.7" fill="#2a2a2a"><text x="562.70" y="307.00" textLength="27.45" lengthAdjust="spacingAndGlyphs">case-1</text><text x="592.80" y="307.00" textLength="34.79" lengthAdjust="spacingAndGlyphs">Serpong</text><text x="630.24" y="307.00" textLength="3.25" lengthAdjust="spacingAndGlyphs">(</text><text x="633.49" y="307.00" textLength="15.90" lengthAdjust="spacingAndGlyphs">255</text><text x="652.04" y="307.00" textLength="20.05" lengthAdjust="spacingAndGlyphs">mins</text><text x="672.08" y="307.00" textLength="3.25" lengthAdjust="spacingAndGlyphs">)</text></g>
<line x1="538.80" x2="556.80" y1="316.00" y2="316.00" stroke="#008000" stroke-width="1.25"/>
<g font-family="Liberation Sans, sans-serif" font-size="8.7" fill="#2a2a2a"><text x="562.70" y="319.00" textLength="27.45" lengthAdjust="spacingAndGlyphs">case-2</text><text x="592.80" y="319.00" textLength="34.79" lengthAdjust="spacingAndGlyphs">Serpong</text><text x="630.24" y="319.00" textLength="3.25" lengthAdjust="spacingAndGlyphs">(</text><text x="633.49" y="319.00" textLength="10.60" lengthAdjust="spacingAndGlyphs">75</text><text x="646.74" y="319.00" textLength="20.05" lengthAdjust="spacingAndGlyphs">mins</text><text x="666.78" y="319.00" textLength="3.25" lengthAdjust="spacingAndGlyphs">)</text></g>
<line x1="538.80" x2="556.80" y1="328.25" y2="328.25" stroke="#0000ff" stroke-width="1.25"/>
<g font-family="Liberation Sans, sans-serif" font-size="8.7" fill="#2a2a2a"><text x="562.70" y="331.25" textLength="27.45" lengthAdjust="spacingAndGlyphs">case-3</text><text x="592.80" y="331.25" textLength="34.79" lengthAdjust="spacingAndGlyphs">Serpong</text><text x="630.24" y="331.25" textLength="3.25" lengthAdjust="spacingAndGlyphs">(</text><text x="633.49" y="331.25" textLength="15.90" lengthAdjust="spacingAndGlyphs">184</text><text x="652.04" y="331.25" textLength="20.05" lengthAdjust="spacingAndGlyphs">mins</text><text x="672.08" y="331.25" textLength="3.25" lengthAdjust="spacingAndGlyphs">)</text></g>
<line x1="538.80" x2="556.80" y1="340.50" y2="340.50" stroke="#ff0000" stroke-width="1.25" stroke-dasharray="8 2 1.25 2"/>
<g font-family="Liberation Sans, sans-serif" font-size="8.7" fill="#2a2a2a"><text x="562.70" y="343.50" textLength="27.45" lengthAdjust="spacingAndGlyphs">case-1</text><text x="592.80" y="343.50" textLength="24.62" lengthAdjust="spacingAndGlyphs">Bogor</text><text x="620.07" y="343.50" textLength="3.25" lengthAdjust="spacingAndGlyphs">(</text><text x="623.32" y="343.50" textLength="15.90" lengthAdjust="spacingAndGlyphs">251</text><text x="641.87" y="343.50" textLength="20.05" lengthAdjust="spacingAndGlyphs">mins</text><text x="661.92" y="343.50" textLength="3.25" lengthAdjust="spacingAndGlyphs">)</text></g>
<line x1="538.80" x2="556.80" y1="352.60" y2="352.60" stroke="#0000ff" stroke-width="1.25" stroke-dasharray="8 2 1.25 2"/>
<g font-family="Liberation Sans, sans-serif" font-size="8.7" fill="#2a2a2a"><text x="562.70" y="355.60" textLength="27.45" lengthAdjust="spacingAndGlyphs">case-3</text><text x="592.80" y="355.60" textLength="24.62" lengthAdjust="spacingAndGlyphs">Bogor</text><text x="620.07" y="355.60" textLength="3.25" lengthAdjust="spacingAndGlyphs">(</text><text x="623.32" y="355.60" textLength="15.90" lengthAdjust="spacingAndGlyphs">523</text><text x="641.87" y="355.60" textLength="20.05" lengthAdjust="spacingAndGlyphs">mins</text><text x="661.92" y="355.60" textLength="3.25" lengthAdjust="spacingAndGlyphs">)</text></g>
</svg>
</body></html>
